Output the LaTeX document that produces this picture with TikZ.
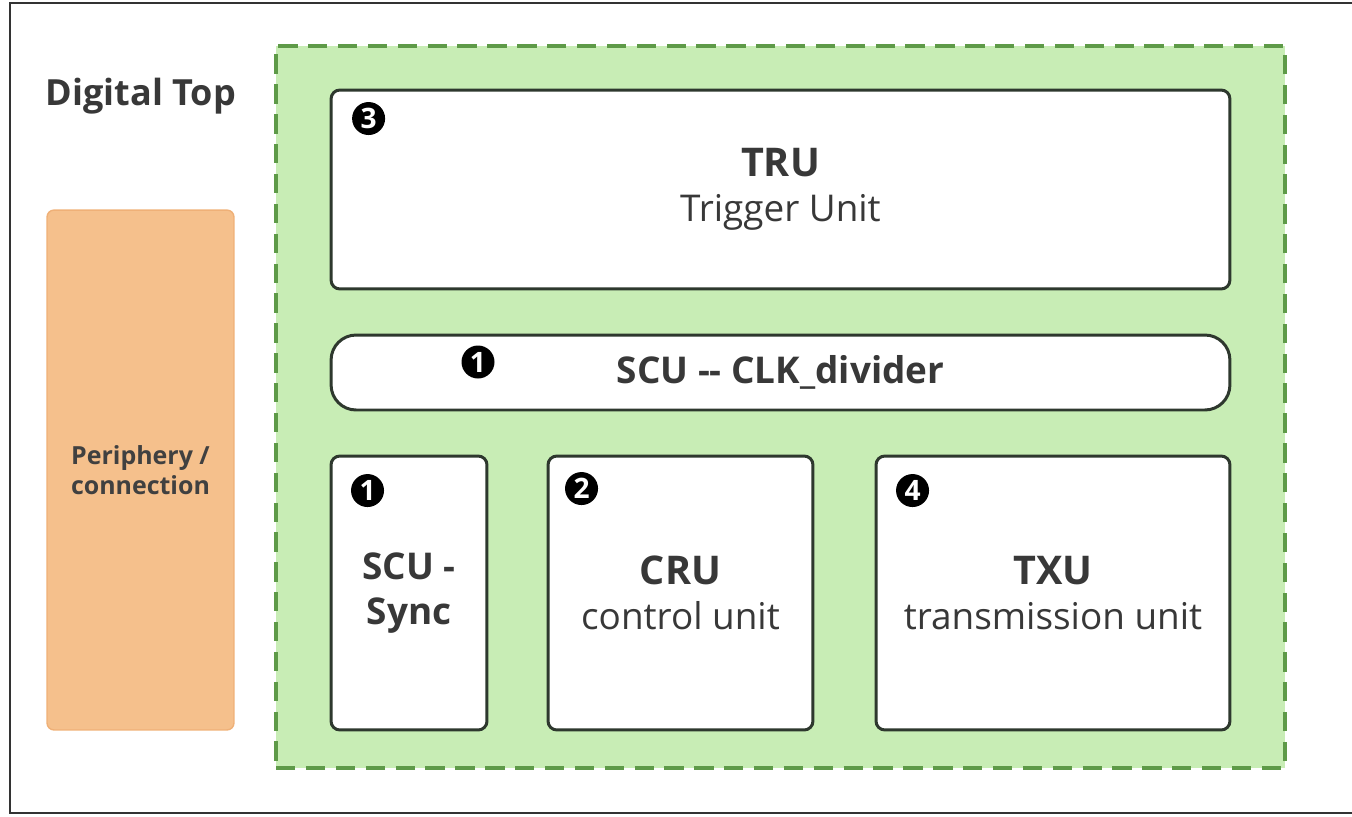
\documentclass[tikz,border=0pt]{standalone}
\usepackage{fontspec}
\setmainfont{Open Sans}
\usetikzlibrary{positioning}

\definecolor{areagreen}{HTML}{C8EDB5}
\definecolor{dashgreen}{HTML}{5E9A48}
\definecolor{perifill}{HTML}{F5C08C}
\definecolor{periedge}{HTML}{EFB077}
\definecolor{boxedge}{HTML}{2E382E}
\definecolor{inktext}{HTML}{383838}

\begin{document}
\begin{tikzpicture}[
    x=0.02cm, y=-0.02cm,
    every node/.style={text=inktext},
    area/.style={rectangle, draw=dashgreen, fill=areagreen, line width=2pt, dash pattern=on 11pt off 6pt, minimum width=20.18cm, minimum height=14.44cm},
    periph/.style={rectangle, draw=periedge, fill=perifill, line width=0.8pt, rounded corners=4pt, minimum width=3.74cm, minimum height=10.4cm, align=center, font=\fontsize{14.2}{17}\selectfont\bfseries, text=black!75},
    unit/.style={rectangle, draw=boxedge, fill=white, line width=1.7pt, rounded corners=5pt, align=center, font=\fontsize{21}{25.5}\selectfont},
    badge/.style={circle, fill=black, inner sep=0pt, minimum size=0.66cm, text=white, font=\fontsize{16}{16}\selectfont\bfseries}
]
\useasboundingbox (0,0) rectangle (1352,816);

% outer frame, open on the right
\draw[line width=1.5pt, black!80] (1352,3) -- (10,3) -- (10,813) -- (1352,813);

\node[font=\fontsize{20.5}{24}\selectfont\bfseries] (title) at (141,96) {Digital Top};

\node[periph] (periph) at (140.5,470) {Periphery /\\connection};

\node[area] (digital) at (780.5,407) {};

\node[unit, minimum width=17.98cm, minimum height=3.98cm] (tru) at (780.5,189.5) {{\fontsize{22.5}{25.5}\selectfont\bfseries TRU}\\Trigger Unit};
\node[unit, rounded corners=0.5cm, minimum width=17.98cm, minimum height=1.5cm] (clkdiv) at (780.5,372.5) {\textbf{SCU -{}- CLK\_divider}};
\node[unit, minimum width=3.12cm, minimum height=5.48cm] (sync) at (409,593) {\textbf{SCU -}\\\textbf{Sync}};
\node[unit, minimum width=5.3cm, minimum height=5.48cm] (cru) at (680.5,593) {{\fontsize{22.5}{25.5}\selectfont\bfseries CRU}\\control unit};
\node[unit, minimum width=7.08cm, minimum height=5.48cm] (txu) at (1053,593) {{\fontsize{22.5}{25.5}\selectfont\bfseries TXU}\\transmission unit};

% numbered badges
\node[badge] (b-tru) at ([shift={(39,30)}]tru.north west) {3};
\node[badge] (b-clkdiv) at (478,362) {1};
\node[badge] (b-sync) at ([shift={(38,36)}]sync.north west) {1};
\node[badge] (b-cru) at ([shift={(35,34)}]cru.north west) {2};
\node[badge] (b-txu) at ([shift={(38,36)}]txu.north west) {4};

\end{tikzpicture}
\end{document}
